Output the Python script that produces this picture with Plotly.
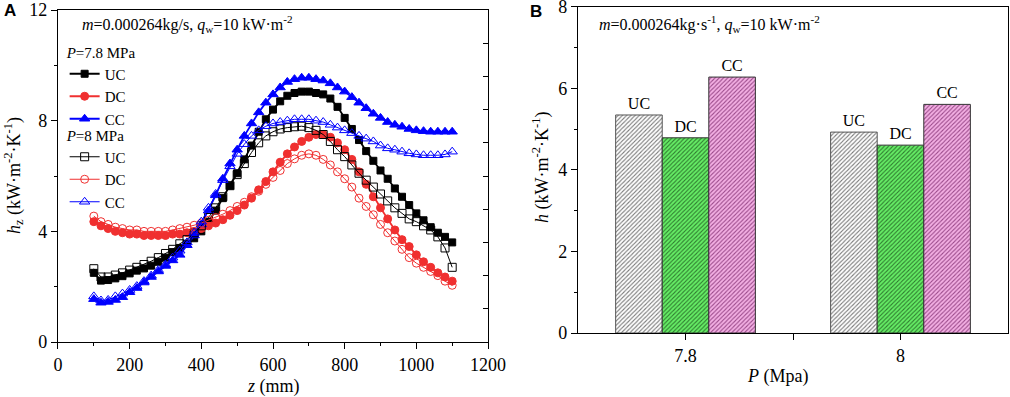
import plotly.graph_objects as go

# ---------------- data (panel A) ----------------
z = [100, 120, 140, 160, 180, 200, 220, 240, 260, 280, 300, 320, 340, 360, 380,
     400, 420, 440, 460, 480, 500, 520, 540, 560, 580, 600, 620, 640, 660, 680,
     700, 720, 740, 760, 780, 800, 820, 840, 860, 880, 900, 920, 940, 960, 980,
     1000, 1020, 1040, 1060, 1080, 1100]

uc_78 = [2.50, 2.22, 2.24, 2.30, 2.38, 2.48, 2.58, 2.66, 2.76, 2.90, 3.05, 3.25, 3.40, 3.55, 3.75,
         4.00, 4.35, 4.75, 5.20, 5.65, 6.10, 6.60, 7.10, 7.60, 8.05, 8.40, 8.70, 8.90, 9.00, 9.05,
         9.05, 9.00, 8.95, 8.80, 8.50, 8.10, 7.70, 7.30, 6.90, 6.55, 6.20, 5.90, 5.55, 5.25, 4.95,
         4.65, 4.40, 4.15, 3.95, 3.80, 3.60]
dc_78 = [4.35, 4.20, 4.10, 4.00, 3.95, 3.90, 3.90, 3.85, 3.85, 3.85, 3.85, 3.90, 3.90, 3.95, 4.00,
         4.10, 4.20, 4.30, 4.42, 4.58, 4.75, 4.95, 5.20, 5.50, 5.80, 6.15, 6.50, 6.80, 7.05, 7.25,
         7.40, 7.50, 7.50, 7.40, 7.20, 6.95, 6.60, 6.15, 5.70, 5.25, 4.85, 4.45, 4.05, 3.70, 3.45,
         3.15, 2.90, 2.70, 2.50, 2.35, 2.20]
cc_78 = [1.55, 1.42, 1.45, 1.52, 1.62, 1.80, 1.95, 2.15, 2.35, 2.55, 2.75, 2.95, 3.15, 3.50, 3.85,
         4.25, 4.75, 5.30, 5.90, 6.45, 6.95, 7.45, 7.90, 8.30, 8.65, 8.95, 9.20, 9.40, 9.50, 9.55,
         9.55, 9.50, 9.45, 9.35, 9.20, 9.05, 8.85, 8.65, 8.45, 8.25, 8.10, 7.95, 7.85, 7.78, 7.70,
         7.65, 7.62, 7.60, 7.60, 7.60, 7.60]
uc_8 = [2.65, 2.35, 2.35, 2.42, 2.50, 2.60, 2.70, 2.80, 2.92, 3.05, 3.20, 3.35, 3.55, 3.70, 3.95,
        4.20, 4.50, 4.85, 5.25, 5.65, 6.05, 6.45, 6.85, 7.20, 7.45, 7.60, 7.70, 7.75, 7.78, 7.80,
        7.75, 7.65, 7.50, 7.25, 6.95, 6.70, 6.40, 6.10, 5.85, 5.60, 5.35, 5.10, 4.85, 4.65, 4.45,
        4.35, 4.20, 4.05, 3.80, 3.40, 2.70]
dc_8 = [4.55, 4.35, 4.25, 4.15, 4.10, 4.05, 4.05, 4.00, 4.00, 4.00, 4.00, 4.05, 4.10, 4.15, 4.22,
        4.30, 4.40, 4.50, 4.62, 4.75, 4.90, 5.05, 5.25, 5.45, 5.70, 5.95, 6.20, 6.45, 6.62, 6.75,
        6.80, 6.75, 6.60, 6.40, 6.15, 5.90, 5.60, 5.20, 4.90, 4.60, 4.25, 3.95, 3.65, 3.35, 3.05,
        2.85, 2.70, 2.55, 2.40, 2.20, 2.05]
cc_8 = [1.65, 1.50, 1.52, 1.65, 1.75, 1.88, 2.02, 2.20, 2.40, 2.60, 2.80, 3.05, 3.30, 3.60, 3.95,
        4.35, 4.85, 5.35, 5.85, 6.35, 6.80, 7.15, 7.45, 7.65, 7.80, 7.90, 7.95, 8.00, 8.05, 8.05,
        8.05, 8.00, 7.95, 7.85, 7.75, 7.65, 7.55, 7.45, 7.35, 7.25, 7.10, 7.00, 6.95, 6.88, 6.82,
        6.78, 6.75, 6.75, 6.75, 6.78, 6.88]

# ---------------- data (panel B) ----------------
pressures = ["7.8", "8"]
p_pos = [0, 1]
h_uc = [5.35, 4.93]
h_dc = [4.79, 4.61]
h_cc = [6.28, 5.61]

SERIF = "Liberation Serif, Times New Roman, DejaVu Serif, serif"
SANS = "Liberation Sans, Arial, DejaVu Sans, sans-serif"
BLUE = "#0000ff"
RED = "#f03030"
BLACK = "#000000"

fig = go.Figure()

def add_line(y, name, color, symbol, leg, width, msize):
    fig.add_trace(go.Scatter(
        x=z, y=y, name=name, mode="lines+markers",
        line=dict(color=color, width=width),
        marker=dict(symbol=symbol, size=msize, color=color,
                    line=dict(color=color, width=1)),
        legend=leg, xaxis="x", yaxis="y"))

add_line(uc_78, "UC", BLACK, "square", "legend", 1.8, 7)
add_line(dc_78, "DC", RED, "circle", "legend", 1.8, 8)
add_line(cc_78, "CC", BLUE, "triangle-up", "legend", 1.8, 9)
add_line(uc_8, "UC", BLACK, "square-open", "legend2", 1.0, 8)
add_line(dc_8, "DC", RED, "circle-open", "legend2", 1.0, 8)
add_line(cc_8, "CC", BLUE, "triangle-up-open", "legend2", 1.0, 9)

# empty trace for the right-side tick axis
fig.add_trace(go.Scatter(x=[], y=[], xaxis="x", yaxis="y3", showlegend=False))

# bars
bar_specs = [
    ("UC", h_uc, "#ffffff", "#7a7a7a", "#555555"),
    ("DC", h_dc, "#66ee66", "#2f7a2f", "#333333"),
    ("CC", h_cc, "#f4b0e4", "#9a4a8a", "#333333"),
]
for name, vals, bg, fg, edge in bar_specs:
    fig.add_trace(go.Bar(
        x=p_pos, y=vals, name=name, showlegend=False,
        text=[name] * len(vals), textposition="outside", cliponaxis=False,
        textfont=dict(family=SERIF, size=16, color="black"),
        marker=dict(color=bg, line=dict(color=edge, width=1),
                    pattern=dict(shape="/", bgcolor=bg, fgcolor=fg,
                                 size=3, solidity=0.35, fillmode="replace")),
        xaxis="x2", yaxis="y2"))

axis_common = dict(showline=True, linecolor="black", linewidth=1.2, mirror=True,
                   showgrid=False, zeroline=False, ticks="outside", ticklen=6,
                   tickcolor="black", tickwidth=1.2, automargin=False,
                   ticklabeloverflow="allow",
                   tickfont=dict(family=SERIF, size=18, color="black"))

leg_common = dict(xanchor="left", yanchor="top", bgcolor="rgba(0,0,0,0)",
                  font=dict(family=SERIF, size=15, color="black"), itemwidth=30)

fig.update_layout(
    width=1010, height=397,
    margin=dict(l=0, r=0, t=0, b=0),
    paper_bgcolor="white", plot_bgcolor="white",
    barmode="group", bargap=0.35, bargroupgap=0,
    font=dict(family=SERIF, color="black"),
    xaxis=dict(domain=[0.0574, 0.4832], range=[0, 1200], dtick=200,
               minor=dict(dtick=100, ticks="outside", ticklen=3, tickcolor="black"),
               anchor="y", **axis_common),
    yaxis=dict(domain=[0.1385, 0.9748], range=[0, 12], dtick=4,
               minor=dict(dtick=2, ticks="outside", ticklen=3, tickcolor="black"),
               anchor="x", **axis_common),
    yaxis3=dict(overlaying="y", side="right", anchor="x", range=[0, 10], dtick=1,
                ticks="inside", ticklen=5, tickcolor="black", showticklabels=False,
                showgrid=False, zeroline=False, showline=False, automargin=False),
    xaxis2=dict(domain=[0.5723, 0.998], range=[-0.5, 1.5],
                tickmode="array", tickvals=[0, 0.5, 1], ticktext=[pressures[0], "", pressures[1]],
                anchor="y2", **axis_common),
    yaxis2=dict(domain=[0.1612, 0.9824], range=[0, 8], dtick=2,
                minor=dict(dtick=1, ticks="outside", ticklen=3, tickcolor="black"),
                anchor="x2", **axis_common),
    legend=dict(x=0.064, y=1 - 38 / 397,
                title=dict(text="<i>P</i>=7.8 MPa", font=dict(family=SERIF, size=15, color="black")),
                **leg_common),
    legend2=dict(x=0.064, y=1 - 121 / 397,
                 title=dict(text="<i>P</i>=8 MPa", font=dict(family=SERIF, size=15, color="black")),
                 **leg_common),
    showlegend=True,
)

ann = [
    dict(text="<b>A</b>", x=2 / 1010, y=1 - 11 / 397, xanchor="left", yanchor="middle",
         font=dict(family=SANS, size=17)),
    dict(text="<b>B</b>", x=528 / 1010, y=1 - 12 / 397, xanchor="left", yanchor="middle",
         font=dict(family=SANS, size=17)),
    dict(text="<i>m</i>=0.000264kg/s, <i>q</i><sub>w</sub>=10 kW·m<sup>-2</sup>",
         x=80 / 1010, y=1 - 24 / 397, xanchor="left", yanchor="middle",
         font=dict(family=SERIF, size=16)),
    dict(text="<i>m</i>=0.000264kg·s<sup>-1</sup>, <i>q</i><sub>w</sub>=10 kW·m<sup>-2</sup>",
         x=597 / 1010, y=1 - 24 / 397, xanchor="left", yanchor="middle",
         font=dict(family=SERIF, size=16)),
    dict(text="<i>z</i> (mm)", x=273 / 1010, y=1 - 386 / 397, xanchor="center", yanchor="middle",
         font=dict(family=SERIF, size=18)),
    dict(text="<i>P</i> (Mpa)", x=777 / 1010, y=1 - 376 / 397, xanchor="center", yanchor="middle",
         font=dict(family=SERIF, size=18)),
    dict(text="<i>h</i><sub>z</sub> (kW·m<sup>-2</sup>·K<sup>-1</sup>)", x=13 / 1010, y=1 - 176 / 397,
         xanchor="center", yanchor="middle", textangle=-90, font=dict(family=SERIF, size=18)),
    dict(text="<i>h</i> (kW·m<sup>-2</sup>·K<sup>-1</sup>)", x=541 / 1010, y=1 - 168 / 397,
         xanchor="center", yanchor="middle", textangle=-90, font=dict(family=SERIF, size=18)),
]
for a in ann:
    a.update(xref="paper", yref="paper", showarrow=False)
fig.update_layout(annotations=ann)

fig.write_html("out.html", config={"displayModeBar": False},
               post_script="document.body.style.margin='0px';document.body.style.overflow='hidden';")
